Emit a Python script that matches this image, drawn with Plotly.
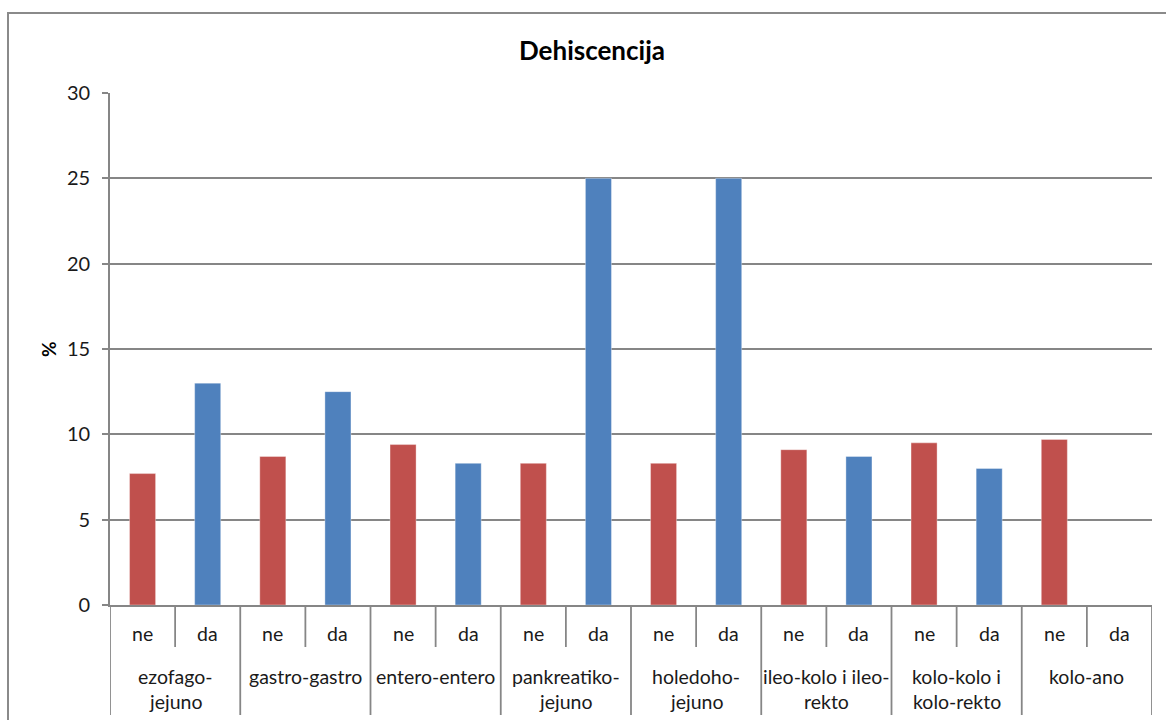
import plotly.graph_objects as go

# Data: anastomosis types, sub-groups and dehiscence rates (%)
groups = ["ezofago-\njejuno", "gastro-gastro", "entero-entero", "pankreatiko-\njejuno",
          "holedoho-\njejuno", "ileo-kolo i ileo-\nrekto", "kolo-kolo i\nkolo-rekto", "kolo-ano"]
sub_labels = ["ne", "da"]
values_ne = [7.7, 8.7, 9.4, 8.3, 8.3, 9.1, 9.5, 9.7]
values_da = [13.0, 12.5, 8.3, 25.0, 25.0, 8.7, 8.0, 0.0]
y_ticks = [0, 5, 10, 15, 20, 25, 30]

RED = "#C0504D"
BLUE = "#4F81BD"
GRID = "#868686"
FONT = "Lato"
TEXT = "#1a1a1a"
LABEL_SIZE = 19.5

W, H = 1166, 720
L, R, T, B = 110, 14, 93, 115
plot_w = W - L - R
plot_h = H - T - B


def py(px):
    """Pixel row -> paper y coordinate."""
    return (H - B - px) / plot_h


def px_x(px):
    """Pixel column -> paper x coordinate."""
    return (px - L) / plot_w


n = len(groups)
x_ne = [2 * i for i in range(n)]
x_da = [2 * i + 1 for i in range(n)]

fig = go.Figure()
fig.add_trace(go.Bar(x=x_ne, y=values_ne, width=0.4, name="ne",
                     marker=dict(color=RED, line=dict(color="rgba(255,255,255,0.35)", width=1))))
fig.add_trace(go.Bar(x=x_da, y=values_da, width=0.4, name="da",
                     marker=dict(color=BLUE, line=dict(color="rgba(255,255,255,0.35)", width=1))))

shapes = []
# outer chart frame
shapes.append(dict(type="rect", xref="paper", yref="paper",
                   x0=px_x(8), x1=1.2, y0=-0.5, y1=py(13),
                   line=dict(color="#8a8a8a", width=2), fillcolor="rgba(0,0,0,0)"))
# separators in the category label area
for i in range(n + 1):
    shapes.append(dict(type="line", xref="x", yref="paper",
                       x0=2 * i - 0.5, x1=2 * i - 0.5, y0=0, y1=py(715),
                       line=dict(color=GRID, width=1.8)))
for i in range(n):
    shapes.append(dict(type="line", xref="x", yref="paper",
                       x0=2 * i + 0.5, x1=2 * i + 0.5, y0=0, y1=py(647),
                       line=dict(color=GRID, width=1.8)))

annotations = []
# inner labels
for i in range(n):
    for j, s in enumerate(sub_labels):
        annotations.append(dict(x=2 * i + j, y=py(633), xref="x", yref="paper",
                                text=s, showarrow=False, yanchor="middle",
                                font=dict(family=FONT, size=LABEL_SIZE, color=TEXT)))
# group labels, one annotation per line
for i, g in enumerate(groups):
    for k, line in enumerate(g.split("\n")):
        annotations.append(dict(x=2 * i + 0.5, y=py(676 + 25 * k), xref="x", yref="paper",
                                text=line, showarrow=False, yanchor="middle",
                                font=dict(family=FONT, size=LABEL_SIZE, color=TEXT)))
# title and y-axis title
annotations.append(dict(x=px_x(592), y=py(50), xref="paper", yref="paper",
                        xanchor="center", yanchor="middle", showarrow=False,
                        text="<b>Dehiscencija</b>",
                        font=dict(family=FONT, size=26, color="#000000")))
annotations.append(dict(x=px_x(48), y=py(349), xref="paper", yref="paper",
                        xanchor="center", yanchor="middle", showarrow=False,
                        text="<b>%</b>", textangle=-90,
                        font=dict(family=FONT, size=19, color="#000000")))

fig.update_layout(
    width=W, height=H,
    margin=dict(l=L, r=R, t=T, b=B, pad=0),
    paper_bgcolor="white", plot_bgcolor="white",
    showlegend=False,
    barmode="overlay",
    shapes=shapes,
    annotations=annotations,
    xaxis=dict(range=[-0.5, 2 * n - 0.5], showticklabels=False, ticks="",
               showgrid=False, zeroline=False, showline=True,
               linecolor=GRID, linewidth=1.8, fixedrange=True),
    yaxis=dict(range=[0, 30], tickvals=y_ticks, ticks="outside", ticklen=6,
               tickcolor=GRID, tickwidth=1.8, showline=True, linecolor=GRID,
               linewidth=1.8, showgrid=True, gridcolor=GRID, gridwidth=1.8,
               zeroline=False, ticklabelstandoff=8,
               tickfont=dict(family=FONT, size=20, color=TEXT), fixedrange=True),
)

fig.write_html("out.html")
